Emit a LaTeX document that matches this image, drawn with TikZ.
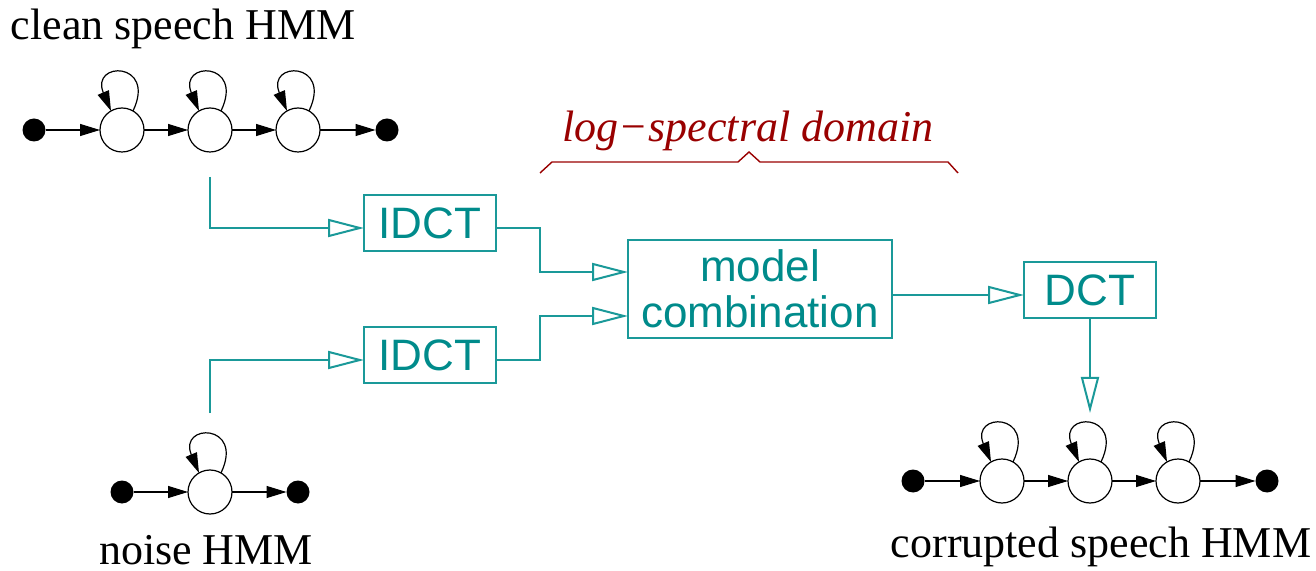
\documentclass[tikz,border=0pt]{standalone}
\usepackage{fontspec}
\setmainfont{Liberation Serif}
\setsansfont{Liberation Sans}
\usetikzlibrary{arrows.meta}
\definecolor{tealtext}{RGB}{0,139,139}
\definecolor{tealline}{RGB}{26,153,153}
\definecolor{domred}{RGB}{153,0,0}

\begin{document}
\begin{tikzpicture}[x=0.5pt, y=-0.5pt, outer sep=0pt]

\tikzstyle{state}=[draw, circle, line width=0.6pt, minimum size=22pt, inner sep=0pt]
\tikzstyle{term}=[fill, circle, minimum size=11.5pt, inner sep=0pt]
\tikzstyle{trans}=[-{Triangle[length=10pt,width=6pt]}, line width=0.6pt]
\tikzstyle{proc}=[draw=tealline, line width=0.8pt, text=tealtext, font=\sffamily\fontsize{22}{23}\selectfont, minimum width=66pt, minimum height=28pt, inner sep=0pt, align=center]
\tikzstyle{flow}=[draw=tealline, line width=1pt, -{Triangle[open,length=18pt,width=9pt]}]
\tikzstyle{label}=[font=\fontsize{22}{24}\selectfont, anchor=base, inner sep=0pt]

\useasboundingbox (0,0) rectangle (1316,571);

% clean speech HMM
\node[label] (cleanlbl) at (183,40) {clean speech HMM};
\node[term] (c0) at (34,130) {}; \node[state] (c1) at (122,130) {}; \node[state] (c2) at (210,130) {}; \node[state] (c3) at (298,130) {}; \node[term] (c4) at (387,130) {};
\draw[trans] (c0) -- (c1); \draw[trans] (c1) -- (c2); \draw[trans] (c2) -- (c3); \draw[trans] (c3) -- (c4);
\draw[trans] (c1.60) .. controls +(24,-50) and +(-21,-50) .. (c1.120);
\draw[trans] (c2.60) .. controls +(24,-50) and +(-21,-50) .. (c2.120);
\draw[trans] (c3.60) .. controls +(24,-50) and +(-21,-50) .. (c3.120);

% noise HMM
\node[label] (noiselbl) at (206,564) {noise HMM};
\node[term] (n0) at (122,492) {}; \node[state] (n1) at (210,492) {}; \node[term] (n2) at (298,492) {};
\draw[trans] (n0) -- (n1); \draw[trans] (n1) -- (n2);
\draw[trans] (n1.60) .. controls +(24,-50) and +(-21,-50) .. (n1.120);

% corrupted speech HMM
\node[label] (corrlbl) at (1101,557) {corrupted speech HMM};
\node[term] (r0) at (913,481) {}; \node[state] (r1) at (1002,481) {}; \node[state] (r2) at (1090,481) {}; \node[state] (r3) at (1178,481) {}; \node[term] (r4) at (1267,481) {};
\draw[trans] (r0) -- (r1); \draw[trans] (r1) -- (r2); \draw[trans] (r2) -- (r3); \draw[trans] (r3) -- (r4);
\draw[trans] (r1.60) .. controls +(24,-50) and +(-21,-50) .. (r1.120);
\draw[trans] (r2.60) .. controls +(24,-50) and +(-21,-50) .. (r2.120);
\draw[trans] (r3.60) .. controls +(24,-50) and +(-21,-50) .. (r3.120);

% processing blocks
\node[proc] (idct1) at (430,223) {IDCT};
\node[proc] (idct2) at (430,355) {IDCT};
\node[proc, minimum width=132pt, minimum height=49pt] (comb) at (760,289) {model\\combination};
\node[proc] (dct) at (1090,290) {DCT};

\coordinate (cleanout) at (210,177);
\coordinate (noiseout) at (210,413);
\coordinate (corrin) at (1090,413);

\draw[flow] (cleanout) |- ([yshift=-2.5pt]idct1.west);
\draw[flow] (noiseout) |- ([yshift=-2.5pt]idct2.west);
\draw[flow] ([yshift=-2.5pt]idct1.east) -- ++(44,0) |- ([yshift=8.5pt]comb.west);
\draw[flow] ([yshift=-2.5pt]idct2.east) -- ++(44,0) |- ([yshift=-13.5pt]comb.west);
\draw[flow] ([yshift=-3pt]comb.east) -- ([yshift=-2.5pt]dct.west);
\draw[flow] (dct.south) -- (corrin);

% log-spectral domain brace
\node[label, text=domred, font=\itshape\fontsize{22}{24}\selectfont] (domlbl) at (748,142) {log−spectral domain};
\draw[domred, line width=0.7pt] (540,173) -- (552,162) -- (738,162) -- (749,152) -- (760,162) -- (948,162) -- (958,173);

\end{tikzpicture}
\end{document}
